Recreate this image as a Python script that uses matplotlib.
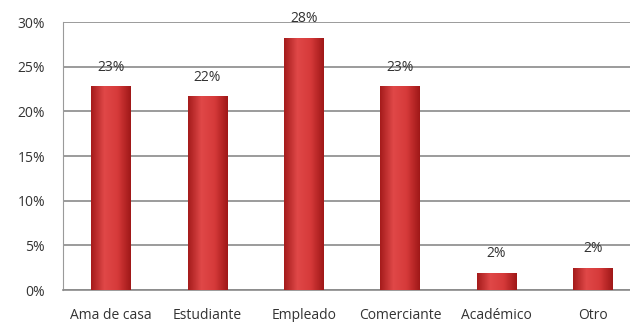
import numpy as np
import matplotlib
matplotlib.use('Agg')
from matplotlib import pyplot as plt
from matplotlib.colors import LinearSegmentedColormap

# Datos
categorias = ['Ama de casa', 'Estudiante', 'Empleado', 'Comerciante', 'Académico', 'Otro']
valores = [22.8, 21.7, 28.2, 22.8, 1.9, 2.5]
etiquetas = ['23%', '22%', '28%', '23%', '2%', '2%']

plt.rcParams['font.family'] = ['Open Sans', 'DejaVu Sans']

fig = plt.figure(figsize=(6.3, 3.22), dpi=100)
ax = fig.add_axes([63/630, 32/322, 578/630, 268/322])

x = np.arange(len(categorias))
barras = ax.bar(x, valores, width=0.41, color='#c62828', zorder=2)

# Degradado horizontal dentro de cada barra
cmap = LinearSegmentedColormap.from_list('rojo', ['#a51c1c', '#e04848', '#d63a3a', '#a01818'])
grad = np.linspace(0, 1, 64).reshape(1, -1)
for b in barras:
    x0, y0 = b.get_x(), b.get_y()
    w, h = b.get_width(), b.get_height()
    img = ax.imshow(grad, cmap=cmap, aspect='auto', extent=(x0, x0 + w, y0, y0 + h), zorder=3)
    img.set_clip_path(b)

for xi, v, t in zip(x, valores, etiquetas):
    ax.text(xi, v + 1.3, t, ha='center', va='bottom', fontsize=10, color='#333333', zorder=4)

ax.set_xlim(-0.5, len(categorias) - 0.5)
ax.set_ylim(0, 30)
ax.set_yticks(range(0, 31, 5))
ax.set_yticklabels([f'{t}%' for t in range(0, 31, 5)])
ax.set_xticks(x)
ax.set_xticklabels(categorias)
ax.tick_params(axis='both', length=0, labelsize=10, colors='#333333')
ax.tick_params(axis='y', pad=13)
ax.tick_params(axis='x', pad=13)

ax.yaxis.grid(True, color='#8a8a8a', linewidth=1.2, zorder=0)
for s in ['top', 'right']:
    ax.spines[s].set_visible(False)
ax.spines['left'].set_color('#9a9a9a')
ax.spines['bottom'].set_color('#8a8a8a')
ax.spines['bottom'].set_linewidth(1.2)

fig.savefig('out.png', dpi=100)
